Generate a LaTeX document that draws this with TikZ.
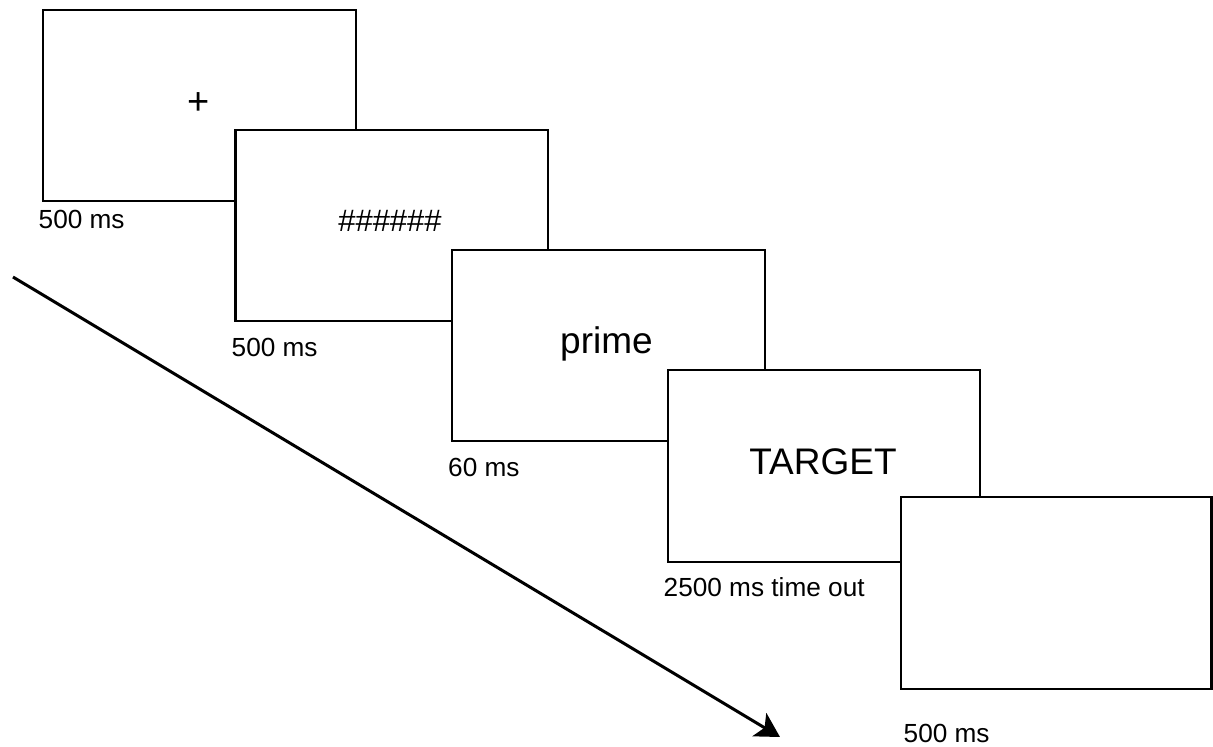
\documentclass[tikz,border=0pt]{standalone}
\usepackage{fontspec}
\setmainfont{Liberation Sans}
\usetikzlibrary{arrows.meta}
\begin{document}
\begin{tikzpicture}[x=1pt,y=-1pt,
  screen/.style={draw, fill=white, line width=2.3pt, inner sep=0pt, outer sep=0pt},
  dur/.style={font=\fontsize{26.2}{30}\selectfont, anchor=base west, inner sep=0pt},
  stim/.style={anchor=base, inner sep=0pt},
  timeline/.style={line width=3pt, -{Stealth[length=24pt,width=27pt,inset=6pt]}}]
  \useasboundingbox (0,0) rectangle (1213,747);

  % time axis
  \coordinate (t0) at (13,277);
  \coordinate (t1) at (780,737);
  \draw[timeline] (t0) -- (t1);

  % stimulus screens, each later one lying over the previous
  \node[screen, minimum width=313pt, minimum height=191pt] (s1) at (199.5,105.5) {};
  \node[stim, font=\fontsize{38}{44}\selectfont] (c1) at (199,114.5) {+};
  \node[dur] (d1) at (38.5,228) {500 ms};

  \node[screen, minimum width=312.5pt, minimum height=191pt] (s2) at (391.75,225.5) {};
  \node[stim, font=\fontsize{31}{36}\selectfont] (c2) at (390,231) {\#\#\#\#\#\#};
  \node[dur] (d2) at (231.5,356) {500 ms};

  \node[screen, minimum width=313pt, minimum height=191pt] (s3) at (608.5,345.5) {};
  \node[stim, font=\fontsize{37}{44}\selectfont] (c3) at (606.5,353) {prime};
  \node[dur] (d3) at (448,476) {60 ms};

  \node[screen, minimum width=312pt, minimum height=192pt] (s4) at (824,466) {};
  \node[stim, font=\fontsize{37}{44}\selectfont] (c4) at (823,474) {TARGET};
  \node[dur] (d4) at (663.5,596) {2500 ms time out};

  \node[screen, minimum width=310.5pt, minimum height=192pt] (s5) at (1056.25,593) {};
  \node[dur] (d5) at (903.5,742) {500 ms};
\end{tikzpicture}
\end{document}
